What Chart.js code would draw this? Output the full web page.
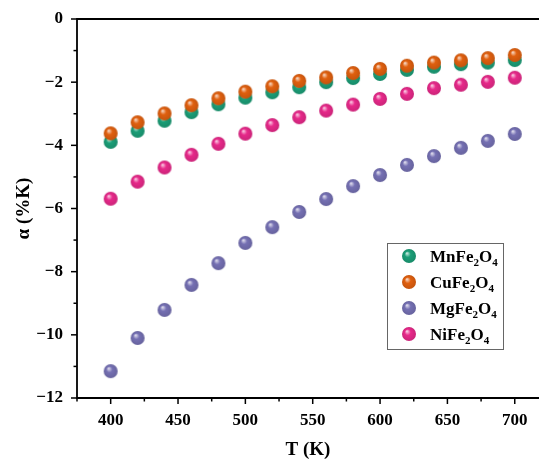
<!DOCTYPE html>
<html lang="en">
<head>
<meta charset="UTF-8">
<title>Temperature coefficient</title>
<script src="https://cdn.jsdelivr.net/npm/chart.js"></script>
<style>
  html, body { margin: 0; padding: 0; background: #fff; }
</style>
</head>
<body>
<canvas id="alphaChart" width="539" height="459"></canvas>
<script>
const temps = [400, 420, 440, 460, 480, 500, 520, 540, 560, 580, 600, 620, 640, 660, 680, 700];
const mnFe2O4 = [-3.89, -3.54, -3.22, -2.95, -2.70, -2.49, -2.32, -2.16, -2.00, -1.87, -1.74, -1.61, -1.51, -1.43, -1.38, -1.30];
const cuFe2O4 = [-3.62, -3.27, -2.99, -2.73, -2.51, -2.30, -2.13, -1.96, -1.85, -1.71, -1.58, -1.48, -1.38, -1.31, -1.24, -1.14];
const mgFe2O4 = [-11.15, -10.10, -9.21, -8.42, -7.73, -7.09, -6.59, -6.11, -5.70, -5.29, -4.94, -4.62, -4.34, -4.08, -3.86, -3.64];
const niFe2O4 = [-5.69, -5.15, -4.70, -4.30, -3.95, -3.63, -3.36, -3.11, -2.90, -2.71, -2.53, -2.37, -2.19, -2.08, -1.99, -1.86];
const seriesLabels = ['MnFe2O4', 'CuFe2O4', 'MgFe2O4', 'NiFe2O4'];
const seriesColors = ['#1b9e77', '#e0600f', '#7570b3', '#e7298a'];

const FONT = 'Liberation Serif';

function mix(hex, other, t) {
  const a = parseInt(hex.slice(1), 16), b = parseInt(other.slice(1), 16);
  const ch = (v, s) => (v >> s) & 255;
  const r = Math.round(ch(a, 16) + (ch(b, 16) - ch(a, 16)) * t);
  const g = Math.round(ch(a, 8) + (ch(b, 8) - ch(a, 8)) * t);
  const bl = Math.round(ch(a, 0) + (ch(b, 0) - ch(a, 0)) * t);
  return `rgb(${r},${g},${bl})`;
}

// shaded ball used as point style
function sphere(color, r) {
  const c = document.createElement('canvas');
  const s = r * 2 + 2;
  c.width = s; c.height = s;
  const g = c.getContext('2d');
  const cx = s / 2, cy = s / 2;
  const grad = g.createRadialGradient(cx - r * 0.3, cy - r * 0.4, r * 0.05, cx, cy, r);
  grad.addColorStop(0, mix(color, '#ffffff', 0.75));
  grad.addColorStop(0.4, color);
  grad.addColorStop(1, mix(color, '#000000', 0.12));
  g.fillStyle = grad;
  g.beginPath();
  g.arc(cx, cy, r, 0, Math.PI * 2);
  g.fill();
  return c;
}

const balls = seriesColors.map(c => sphere(c, 7));
const values = [mnFe2O4, cuFe2O4, mgFe2O4, niFe2O4];
const drawOrder = [2, 1, 3, 0];

const datasets = seriesLabels.map((label, i) => ({
  label: label,
  data: temps.map((t, j) => ({ x: t, y: values[i][j] })),
  pointStyle: balls[i],
  pointRadius: 7,
  backgroundColor: seriesColors[i],
  borderColor: seriesColors[i],
  showLine: false,
  order: drawOrder[i]
}));

function drawFormula(ctx, text, x, y) {
  for (const chr of text) {
    if (/[0-9]/.test(chr)) {
      ctx.font = `bold 11px "${FONT}"`;
      ctx.fillText(chr, x, y + 4);
    } else {
      ctx.font = `bold 17px "${FONT}"`;
      ctx.fillText(chr, x, y);
    }
    x += ctx.measureText(chr).width;
  }
}

const framePlugin = {
  id: 'frame',
  afterDraw(chart) {
    const ctx = chart.ctx;
    const a = chart.chartArea;
    ctx.save();
    ctx.strokeStyle = '#000';
    ctx.lineWidth = 1.8;
    // top, left and bottom edges; the right edge is cut off in the original
    ctx.beginPath();
    ctx.moveTo(a.right + 2, a.top);
    ctx.lineTo(a.left, a.top);
    ctx.lineTo(a.left, a.bottom);
    ctx.lineTo(a.right + 2, a.bottom);
    ctx.stroke();
    ctx.lineWidth = 1.5;
    const xs = chart.scales.x, ys = chart.scales.y;
    xs.ticks.forEach(t => {
      const px = xs.getPixelForValue(t.value);
      const len = t.value % 50 === 0 ? 6 : 3.5;
      ctx.beginPath(); ctx.moveTo(px, a.bottom); ctx.lineTo(px, a.bottom + len); ctx.stroke();
    });
    ys.ticks.forEach(t => {
      const py = ys.getPixelForValue(t.value);
      const len = t.value % 2 === 0 ? 6 : 3.5;
      ctx.beginPath(); ctx.moveTo(a.left, py); ctx.lineTo(a.left - len, py); ctx.stroke();
    });

    // legend box
    ctx.lineWidth = 1;
    ctx.strokeStyle = '#666';
    ctx.strokeRect(387.5, 243.5, 116, 106);
    ctx.fillStyle = '#000';
    ctx.textBaseline = 'alphabetic';
    ctx.textAlign = 'left';
    seriesLabels.forEach((label, i) => {
      const cy = 256 + i * 26;
      ctx.drawImage(balls[i], 409 - balls[i].width / 2, cy - balls[i].height / 2);
      drawFormula(ctx, label, 430, cy + 6);
    });
    ctx.restore();
  }
};

new Chart(document.getElementById('alphaChart'), {
  type: 'scatter',
  data: { datasets: datasets },
  options: {
    responsive: false,
    animation: false,
    layout: { autoPadding: false, padding: { top: 19, right: 0, left: 0, bottom: 0 } },
    plugins: { legend: { display: false }, tooltip: { enabled: false } },
    scales: {
      x: {
        type: 'linear',
        min: 375,
        max: 718,
        grid: { display: false, drawTicks: false },
        border: { display: false },
        afterFit: s => { s.height = 61; s.paddingLeft = 0; s.paddingRight = 0; },
        ticks: {
          stepSize: 25,
          includeBounds: false,
          padding: 12,
          color: '#000',
          font: { family: FONT, size: 17, weight: 'bold' },
          callback: v => (v % 50 === 0 && v >= 400 ? v : '')
        },
        title: {
          display: true,
          text: 'T (K)',
          color: '#000',
          padding: { top: 0, bottom: -1 },
          font: { family: FONT, size: 19, weight: 'bold', lineHeight: 1.0 }
        }
      },
      y: {
        min: -12,
        max: 0,
        grid: { display: false, drawTicks: false },
        border: { display: false },
        afterFit: s => { s.width = 77; s.paddingTop = 0; s.paddingBottom = 0; },
        ticks: {
          stepSize: 1,
          padding: 14,
          color: '#000',
          font: { family: FONT, size: 17, weight: 'bold' },
          callback: v => (v % 2 === 0 ? (v < 0 ? '\u2212' + Math.abs(v) : String(v)) : '')
        },
        title: {
          display: true,
          text: 'α (%K)',
          color: '#000',
          padding: { top: 13, bottom: 0 },
          font: { family: FONT, size: 19, weight: 'bold' }
        }
      }
    }
  },
  plugins: [framePlugin]
});
</script>
</body>
</html>
